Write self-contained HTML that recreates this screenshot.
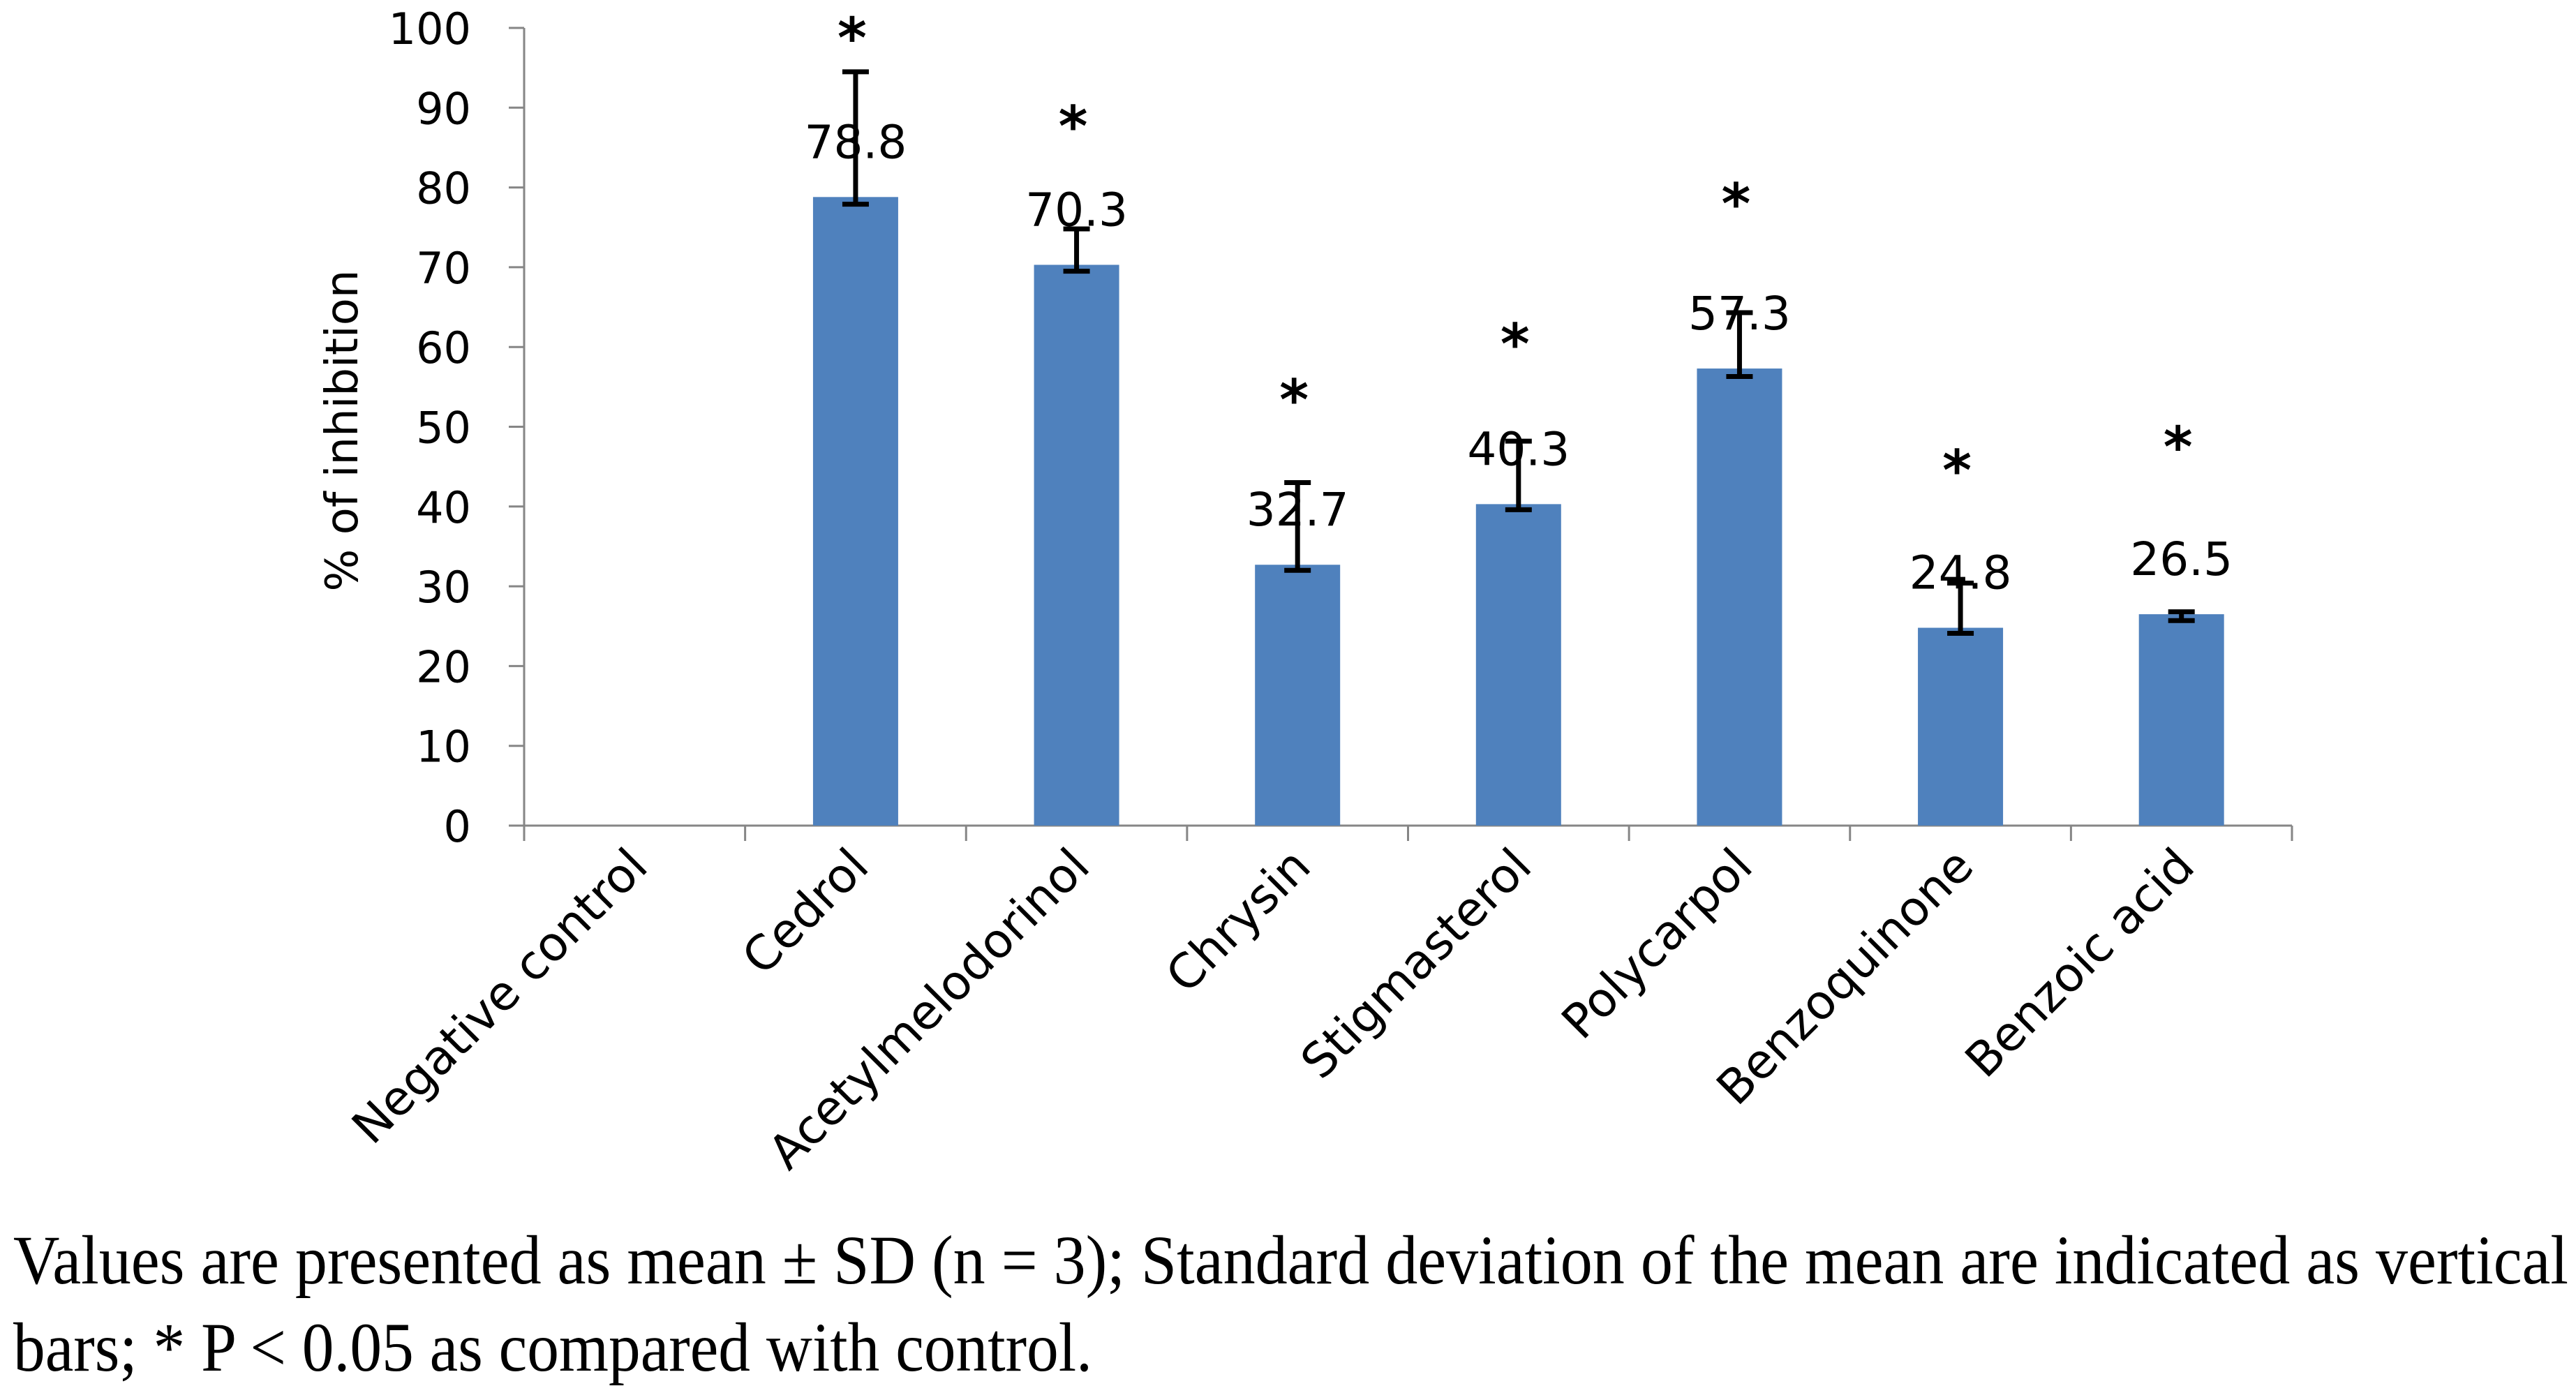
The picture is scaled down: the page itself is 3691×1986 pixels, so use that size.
<!DOCTYPE html>
<html><head><meta charset="utf-8"><style>
html,body{margin:0;padding:0;background:#fff;}
svg{display:block;}
</style></head><body>
<svg id="chart" width="3691" height="1986" viewBox="0 0 3691 1986" xmlns="http://www.w3.org/2000/svg">
<g id="axes"></g>
<g id="bars"></g>
<text transform="translate(512,617) rotate(-90)" text-anchor="middle" font-family="DejaVu Sans, sans-serif" font-size="64" fill="#000">% of inhibition</text>
<text x="19" y="1839" textLength="3661" lengthAdjust="spacingAndGlyphs" font-family="Liberation Serif, serif" font-size="100" fill="#000">Values are presented as mean ± SD (n = 3); Standard deviation of the mean are indicated as vertical</text>
<text x="19" y="1964" textLength="1546" lengthAdjust="spacingAndGlyphs" font-family="Liberation Serif, serif" font-size="100" fill="#000">bars; * P &lt; 0.05 as compared with control.</text>
</svg>
<script>
const categories = ["Negative control","Cedrol","Acetylmelodorinol","Chrysin","Stigmasterol","Polycarpol","Benzoquinone","Benzoic acid"];
const values = [0, 78.8, 70.3, 32.7, 40.3, 57.3, 24.8, 26.5];
const labels = ["", "78.8", "70.3", "32.7", "40.3", "57.3", "24.8", "26.5"];
const errUpper = [null, 94.5, 74.8, 43.0, 48.2, 64.3, 30.4, 26.8];
const errLower = [null, 77.9, 69.5, 32.0, 39.6, 56.3, 24.1, 25.7];
const starValues = [null, 99.8, 88.7, 54.4, 61.4, 79.0, 45.6, 48.5];
const yTicks = [0,10,20,30,40,50,60,70,80,90,100];

const NS = "http://www.w3.org/2000/svg";
const X0 = 751, X1 = 3284, Y0 = 1183, Y100 = 40;
const band = (X1 - X0) / categories.length;
const barW = 122;
function y(v){ return Y0 - (v/100)*(Y0 - Y100); }
function xc(i){ return X0 + band*(i+0.5); }
function mk(tag, attrs, parent){ const e=document.createElementNS(NS,tag); for(const k in attrs) e.setAttribute(k,attrs[k]); parent.appendChild(e); return e; }

const axes = document.getElementById("axes");
const bars = document.getElementById("bars");
const GRAY = "#868686";

let yl = mk("line",{x1:X0,y1:Y100,x2:X0,y2:Y0,stroke:GRAY,"stroke-width":3},axes);


let xl = mk("line",{x1:X0,y1:Y0,x2:X1,y2:Y0,stroke:GRAY,"stroke-width":3},axes);



yTicks.forEach(t=>{
  const tk = mk("line",{x1:X0-22,y1:y(t),x2:X0,y2:y(t),stroke:GRAY,"stroke-width":3},axes);
  
  
  const tl = mk("text",{x:675,y:y(t)+23,"text-anchor":"end","font-family":"DejaVu Sans, sans-serif","font-size":62,fill:"#000"},axes);
  tl.textContent = t;
  
  
});
for(let i=0;i<=categories.length;i++){
  const tk = mk("line",{x1:X0+band*i,y1:Y0,x2:X0+band*i,y2:Y0+22,stroke:GRAY,"stroke-width":3},axes);
  
  
}
categories.forEach((c,i)=>{
  const cx = xc(i);
  const t = mk("text",{transform:`translate(${cx+22},${Y0+62}) rotate(-45)`,"text-anchor":"end","font-family":"DejaVu Sans, sans-serif","font-size":68,fill:"#000"},axes);
  t.textContent = c;
  
  
  if(values[i] > 0){
    const r = mk("rect",{x:cx-barW/2,y:y(values[i]),width:barW,height:Y0-y(values[i]),fill:"#4F81BD"},bars);
    
    
  }
  if(labels[i]){
    const lt = mk("text",{x:cx,y:y(values[i]+7)+24,"text-anchor":"middle","font-family":"DejaVu Sans, sans-serif","font-size":66,fill:"#000"},bars);
    lt.textContent = labels[i];
    
    
  }
  if(errUpper[i]!=null){
    const g = mk("g",{stroke:"#000","stroke-width":7},bars);
    
    
    mk("line",{x1:cx,y1:y(errUpper[i]),x2:cx,y2:y(errLower[i])},g);
    mk("line",{x1:cx-19,y1:y(errUpper[i]),x2:cx+19,y2:y(errUpper[i])},g);
    mk("line",{x1:cx-19,y1:y(errLower[i]),x2:cx+19,y2:y(errLower[i])},g);
  }
  if(starValues[i]!=null){
    const s = mk("text",{x:cx-5,y:y(starValues[i])+40,"text-anchor":"middle","font-family":"DejaVu Sans, sans-serif","font-size":80,"font-weight":"bold",fill:"#000"},bars);
    s.textContent = "*";
    
    
  }
});
</script>
</body></html>
